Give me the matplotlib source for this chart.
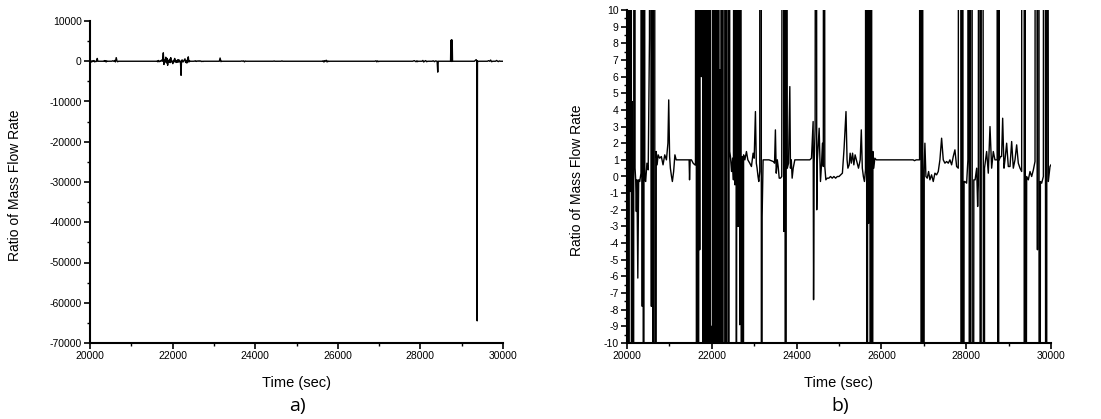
import matplotlib
matplotlib.use("Agg")
import matplotlib.pyplot as plt
from matplotlib.ticker import MultipleLocator

# time stamps (sec) and ratio of mass flow rate
time_s = [
    20000, 20020, 20040, 20060, 20080, 20095, 20110, 20125, 20140, 20160,
    20175, 20190, 20205, 20220, 20235, 20255, 20275, 20300, 20330, 20345,
    20360, 20375, 20390, 20405, 20420, 20440, 20470, 20500, 20530, 20550,
    20575, 20595, 20615, 20635, 20655, 20670, 20690, 20710,
    20735, 20770, 20810, 20850, 20890, 20930, 20965, 20984, 21005, 21023,
    21050, 21070, 21100, 21130, 21160, 21200, 21300, 21400, 21465, 21475,
    21490, 21520, 21560, 21600,
    21615, 21630, 21645, 21660, 21680, 21700, 21715, 21735, 21755, 21775,
    21790, 21805, 21820, 21835, 21850, 21865, 21880, 21895, 21910, 21925,
    21940, 21955, 21970, 21990, 22005, 22020, 22035, 22050, 22070, 22085,
    22100, 22115, 22130, 22145, 22160, 22175, 22190, 22205, 22215, 22230,
    22250, 22265, 22280, 22300, 22315, 22330, 22345, 22360, 22380, 22395,
    22410, 22423,
    22440, 22465, 22490, 22510, 22530, 22545, 22560, 22580, 22600, 22620,
    22640, 22659, 22680, 22700, 22720, 22738, 22750, 22780, 22817, 22850,
    22895, 22935, 22974, 23000, 23029, 23050, 23068, 23090, 23108, 23131,
    23150, 23170, 23187, 23210, 23260, 23350, 23450, 23480, 23500, 23520,
    23545, 23565, 23590, 23620, 23650, 23680, 23700, 23722, 23740, 23761,
    23780, 23810, 23840, 23855, 23875, 23895, 23920, 23958, 24100, 24200,
    24312, 24351, 24390, 24400, 24414, 24437, 24460, 24475, 24490, 24532,
    24563, 24587, 24610, 24630, 24647, 24665, 24690,
    24720, 24760, 24800, 24840, 24880, 24920, 24960, 25000, 25040, 25080,
    25120, 25165, 25190, 25210, 25240, 25263, 25290, 25320, 25350, 25380,
    25420, 25460, 25500, 25526, 25550, 25575, 25600, 25625, 25645, 25665,
    25680, 25700, 25720, 25740, 25760, 25780, 25800, 25820, 25845, 25880,
    26000, 26300, 26600, 26750, 26780, 26820, 26900,
    26925, 26945, 26965, 26987, 27010, 27026, 27050, 27081, 27113, 27144,
    27183, 27223, 27262, 27302, 27341, 27380, 27420, 27459, 27498, 27538,
    27577, 27616, 27656, 27695, 27734, 27774, 27813, 27852, 27875, 27895,
    27915, 27931, 27950, 27970, 28010, 28040, 28060, 28080, 28100, 28129,
    28150, 28180, 28210, 28247, 28270, 28286, 28310, 28340, 28365, 28405,
    28420, 28432, 28482, 28521, 28561, 28600, 28639, 28678, 28730, 28738,
    28746, 28754, 28762, 28770, 28778, 28810, 28835, 28860, 28891, 28915,
    28954, 28993, 29033, 29072, 29111, 29151, 29190, 29229, 29269, 29308,
    29350, 29368, 29375, 29382, 29400, 29426, 29465, 29505, 29544, 29584,
    29623, 29650, 29680, 29700, 29725, 29750, 29780, 29820, 29845, 29870,
    29890, 29910, 29937, 29976, 30000,
]
ratio = [
    6.7, 150, -200, 120, -0.9, 180, -150, 4.5, -90, 2.0,
    700, 0.5, -0.2, -2.1, -0.2, -6.1, -0.2, -0.3, 0.2, 160,
    -7.8, 140, -180, 90, -0.2, -0.3, 0.8, 0.4, 8.3, 120,
    -7.8, 200, -160, 900, 4.3, -120, 1.5, 0.7,
    1.3, 1.1, 1.2, 0.7, 1.3, 1.0, 2.0, 4.6, 1.2, 0.5,
    0.0, -0.3, 0.3, 1.3, 1.0, 1.0, 1.0, 1.0, 1.0, -0.2,
    1.0, 1.0, 0.8, 0.7,
    0.7, 80, -150, 200, -90, 60, -4.4, 300, 6.0, 2100,
    -800, 250, -120, 1000, -400, 700, -1000, 150, -200, 500,
    -350, 900, -150, -9.0, -600, 220, -180, 700, 8.0, -300,
    180, -250, 400, -200, 300, -150, 6.4, -3500, -9.5, 350,
    -200, -8.9, 250, 600, -300, 200, -450, 300, 1100, -200,
    150, 1.5,
    1.2, 0.3, 1.1, -0.2, 60, -0.5, 110, -40, 80, -3.0,
    130, -8.9, 90, -70, 1.2, -60, 1.3, 1.0, 1.5, 1.0,
    0.8, 0.6, 1.4, 1.1, 3.9, 0.8, 0.5, 0.0, -0.3, 0.3,
    800, -90, -2.4, 1.0, 1.0, 1.0, 0.9, 0.8, 2.8, 0.2,
    1.0, 0.6, -0.1, -0.1, 0.0, 80, -3.3, 90, -150, 60,
    0.5, 0.8, 5.4, 0.5, 1.0, -0.1, 0.5, 1.0, 1.0, 1.0,
    1.0, 1.1, 3.3, -7.4, 0.8, 2.9, 70, -2.0, 1.0, 2.9,
    -0.3, 0.7, 2.0, 0.6, 90, 0.6, -0.2,
    -0.1, -0.1, 0.0, -0.1, 0.0, -0.1, 0.0, 0.0, 0.1, 0.2,
    1.7, 3.9, 1.0, 0.5, 0.7, 1.4, 0.8, 1.4, 0.7, 1.3,
    0.9, 0.5, 1.0, 2.8, 0.5, 0.0, -0.3, 0.4, 120, -200,
    150, -2.8, 250, -180, 90, -60, 1.5, 0.5, 1.1, 1.0,
    1.0, 1.0, 1.0, 1.0, 0.95, 1.0, 1.0,
    120, -150, 90, -80, 0.4, 2.0, 0.0, -0.1, 0.3, -0.2,
    0.1, -0.3, 0.2, 0.1, 0.3, 1.0, 2.3, 1.0, 0.8, 0.9,
    0.8, 1.0, 0.7, 1.2, 1.6, 0.6, 0.5, 150, -2.5, -120,
    110, -90, -0.3, -0.3, -0.4, 1.0, 200, -180, -0.3, 160,
    -110, -0.2, -0.2, 0.5, -1.8, -0.5, 120, -100, 80, -2.6,
    -2700, 0.5, 1.5, 0.2, 3.0, 0.5, 1.5, 1.0, 1.0, 5200,
    -40, 5300, -60, 5250, 1.0, 1.2, 1.2, 3.5, 0.5, 1.0,
    2.0, 0.6, 0.6, 2.1, 0.5, 1.0, 1.9, 0.8, 0.5, 0.3,
    400, 0.5, -64500, 90, -50, 0.0, -0.2, 0.3, 0.0, 0.4,
    0.9, 150, -4.4, 300, -120, -0.3, -0.4, 0.0, 200, -2.5,
    -90, 80, -0.3, 0.6, 0.7,
]

W, H = 1101, 419
plt.rcParams["font.family"] = ["Liberation Sans", "DejaVu Sans"]
plt.rcParams["axes.unicode_minus"] = False
fig = plt.figure(figsize=(W / 100, H / 100), dpi=100)


def box(x0, x1, y0, y1):
    return [x0 / W, 1 - y1 / H, (x1 - x0) / W, (y1 - y0) / H]


ax_a = fig.add_axes(box(90, 503, 21, 343))
ax_b = fig.add_axes(box(627, 1051, 10, 343))

for ax in (ax_a, ax_b):
    ax.plot(time_s, ratio, color="black", lw=1.0)
    ax.set_xlim(20000, 30000)
    ax.xaxis.set_major_locator(MultipleLocator(2000))
    ax.xaxis.set_minor_locator(MultipleLocator(1000))
    for s in ("top", "right"):
        ax.spines[s].set_visible(False)
    for s in ("left", "bottom"):
        ax.spines[s].set_linewidth(1.5)
    ax.tick_params(which="major", direction="out", length=4, width=1.2, labelsize=7.5, pad=2)
    ax.tick_params(which="minor", direction="out", length=2.5, width=1.0)

ax_a.set_ylim(-70000, 10000)
ax_a.yaxis.set_major_locator(MultipleLocator(10000))
ax_a.yaxis.set_minor_locator(MultipleLocator(5000))

ax_b.set_ylim(-10, 10)
ax_b.yaxis.set_major_locator(MultipleLocator(1))
ax_b.yaxis.set_minor_locator(MultipleLocator(0.5))

fig.text(15 / W, 1 - 185 / H, "Ratio of Mass Flow Rate", rotation=90,
         ha="center", va="center", fontsize=10)
fig.text(577 / W, 1 - 180 / H, "Ratio of Mass Flow Rate", rotation=90,
         ha="center", va="center", fontsize=10)
fig.text(297 / W, 1 - 383 / H, "Time (sec)", ha="center", va="center", fontsize=10.5)
fig.text(838 / W, 1 - 383 / H, "Time (sec)", ha="center", va="center", fontsize=10.5)
fig.text(297 / W, 1 - 406 / H, "a)", ha="center", va="center", fontsize=14,
         family=["Open Sans", "DejaVu Sans"])
fig.text(840 / W, 1 - 406 / H, "b)", ha="center", va="center", fontsize=14,
         family=["Open Sans", "DejaVu Sans"])

fig.savefig("out.png", dpi=100, facecolor="white")
